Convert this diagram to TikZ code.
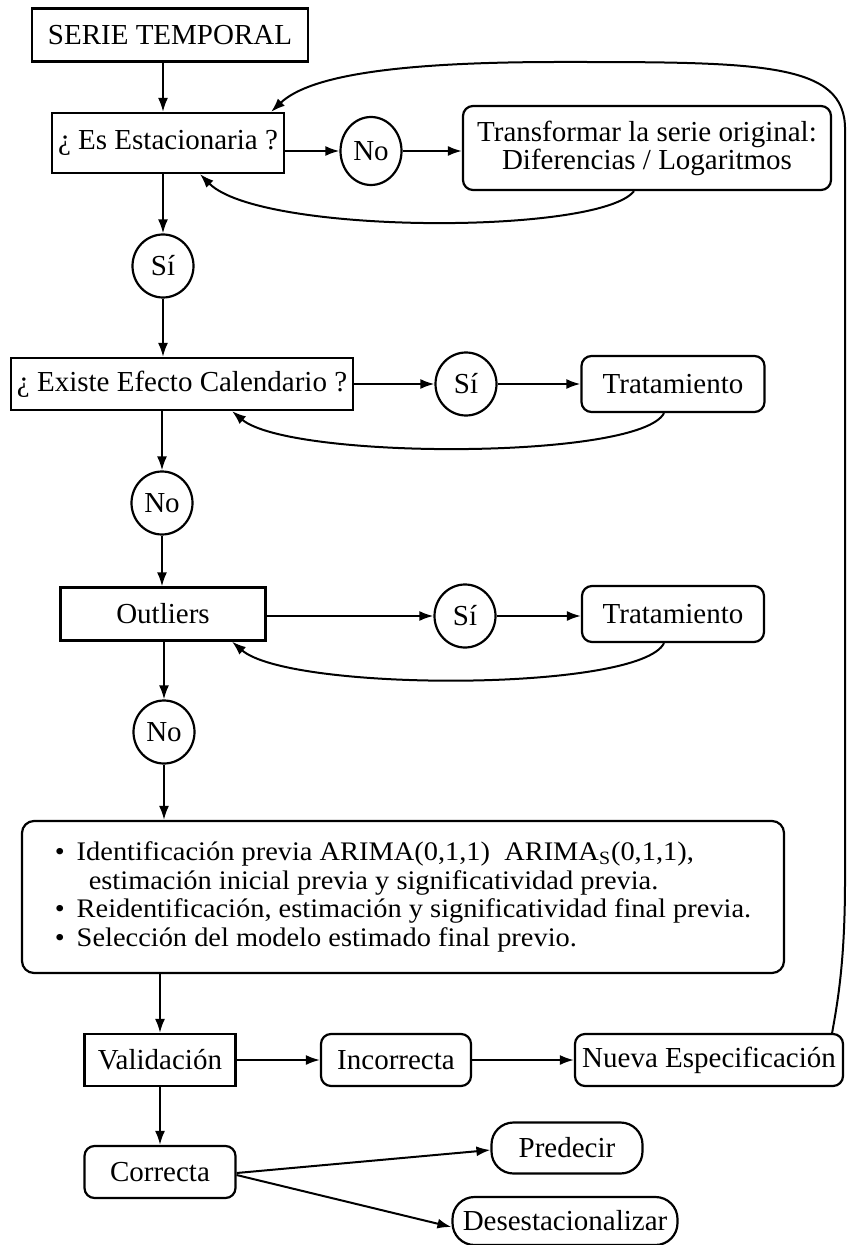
\documentclass[tikz,border=0pt]{standalone}
\usepackage{fontspec}
\setmainfont{Liberation Serif}
\newfontfamily\boxfont{Liberation Serif}[FakeStretch=1.06]
\usepackage{tikz}
\usetikzlibrary{shapes.geometric,arrows.meta,calc,positioning}

\begin{document}
\begin{tikzpicture}[x=0.5pt, y=-0.5pt, >={Latex[length=7pt,width=5pt]}]
	\tikzstyle{every node} = [draw = black, line width = 1.1pt, inner sep = 0pt, font = \fontsize{14.5}{14}\selectfont]
	\tikzstyle{sqbox} = [rectangle]
	\tikzstyle{rdbox} = [rectangle, rounded corners = 5pt]
	\tikzstyle{pill} = [rectangle, rounded corners = 11pt]
	\tikzstyle{answer} = [ellipse, minimum width = 30.5pt, minimum height = 31.5pt]
	\tikzstyle{link} = [draw, ->, line width = 1pt]
\useasboundingbox (0, 0) rectangle (846, 1245);
\node[sqbox, minimum width = 138pt, minimum height = 26.5pt] (serie) at (170, 35) {SERIE TEMPORAL};
\node[sqbox, minimum width = 116pt, minimum height = 30pt] (est) at (168, 143) {¿ Es Estacionaria ?};
\node[answer, minimum height = 34pt] (noA) at (371, 151) {No};
\node[rdbox, minimum width = 184pt, minimum height = 42pt, align = center] (trans) at (647, 148) {Transformar la serie original:\\Diferencias / Logaritmos};
\node[answer] (siA) at (163, 266) {Sí};
\node[sqbox, minimum width = 171pt, minimum height = 26pt] (cal) at (182, 384) {¿ Existe Efecto Calendario ?};
\node[answer] (siB) at (466, 384) {Sí};
\node[rdbox, minimum width = 91.5pt, minimum height = 28pt] (tratA) at (673, 384) {Tratamiento};
\node[answer] (noB) at (162, 503) {No};
\node[sqbox, minimum width = 102.5pt, minimum height = 26.5pt] (out) at (163, 614) {Outliers};
\node[answer] (siC) at (465, 616) {Sí};
\node[rdbox, minimum width = 91pt, minimum height = 28pt] (tratB) at (673, 614) {Tratamiento};
\node[answer] (noC) at (164, 732) {No};
\node[rdbox, rounded corners = 6pt, minimum width = 381pt, minimum height = 76pt, align = left, font = \boxfont\fontsize{13.4}{14.4}\selectfont] (prev) at (403, 897) {%
\textbullet\hspace{6pt}Identificación previa ARIMA(0,1,1)\ \ ARIMA\textsubscript{S}(0,1,1),\\
\hspace*{17pt}estimación inicial previa y significatividad previa.\\
\textbullet\hspace{6pt}Reidentificación, estimación y significatividad final previa.\\
\textbullet\hspace{6pt}Selección del modelo estimado final previo.};
\node[sqbox, minimum width = 75.5pt, minimum height = 26pt] (val) at (160, 1060) {Validación};
\node[rdbox, minimum width = 75pt, minimum height = 26pt] (inc) at (396, 1060) {Incorrecta};
\node[rdbox, minimum width = 134pt, minimum height = 26pt] (nueva) at (709, 1060) {Nueva Especificación};
\node[rdbox, minimum width = 75.5pt, minimum height = 26pt] (corr) at (160, 1172) {Correcta};
\node[pill, minimum width = 75.5pt, minimum height = 25.5pt] (pred) at (567, 1148) {Predecir};
\node[pill, minimum width = 112.5pt, minimum height = 24pt] (des) at (565, 1221) {Desestacionalizar};
	% main column
	\path[link] (serie.south -| siA) -- (est.north -| siA);
	\path[link] (est.south -| siA) -- (siA.north);
	\path[link] (siA.south) -- (siA.south |- cal.north);
	\path[link] (cal.south -| noB) -- (noB.north);
	\path[link] (noB.south) -- (noB.south |- out.north);
	\path[link] (out.south -| noC) -- (noC.north);
	\path[link] (noC.south) -- (noC.south |- prev.north);
	\path[link] (prev.south -| val) -- (val.north);
	\path[link] (val) -- (corr);
	% branches
	\path[link] (est.east |- noA) -- (noA);
	\path[link] (noA) -- (noA -| trans.west);
	\path[link] (cal) -- (siB);
	\path[link] (siB) -- (tratA);
	\path[link] (out.east |- siC) -- (siC);
	\path[link] (siC) -- (siC -| tratB.west);
	\path[link] (val) -- (inc);
	\path[link] (inc) -- (nueva);
	\path[link] ([yshift = -0.5pt]corr.east) -- ([yshift = -1pt]pred.west);
	\path[link] ([yshift = -1.5pt]corr.east) -- ([yshift = -3pt]des.west);
	% feedback
	\path[link] ($(trans.south)+(-13, 0)$) .. controls (600, 235) and (260, 235) .. ($(est.south)+(32, 0)$);
	\path[link] ($(tratA.south)+(-9, 0)$) .. controls (640, 460) and (290, 460) .. ($(cal.south)+(50, 0)$);
	\path[link] ($(tratB.south)+(-9, 0)$) .. controls (640, 692) and (290, 692) .. ($(out.south)+(69, 0)$);
	\path[link] ($(nueva.north east)+(-12, 0)$) .. controls (838, 1000) and (845, 960) .. (845, 880) -- (845, 130)
		.. controls (846, 62) and (760, 62) .. (560, 62) .. controls (400, 62) and (310, 75) .. ($(est.north east)+(-14, 0)$);
\end{tikzpicture}
\end{document}
